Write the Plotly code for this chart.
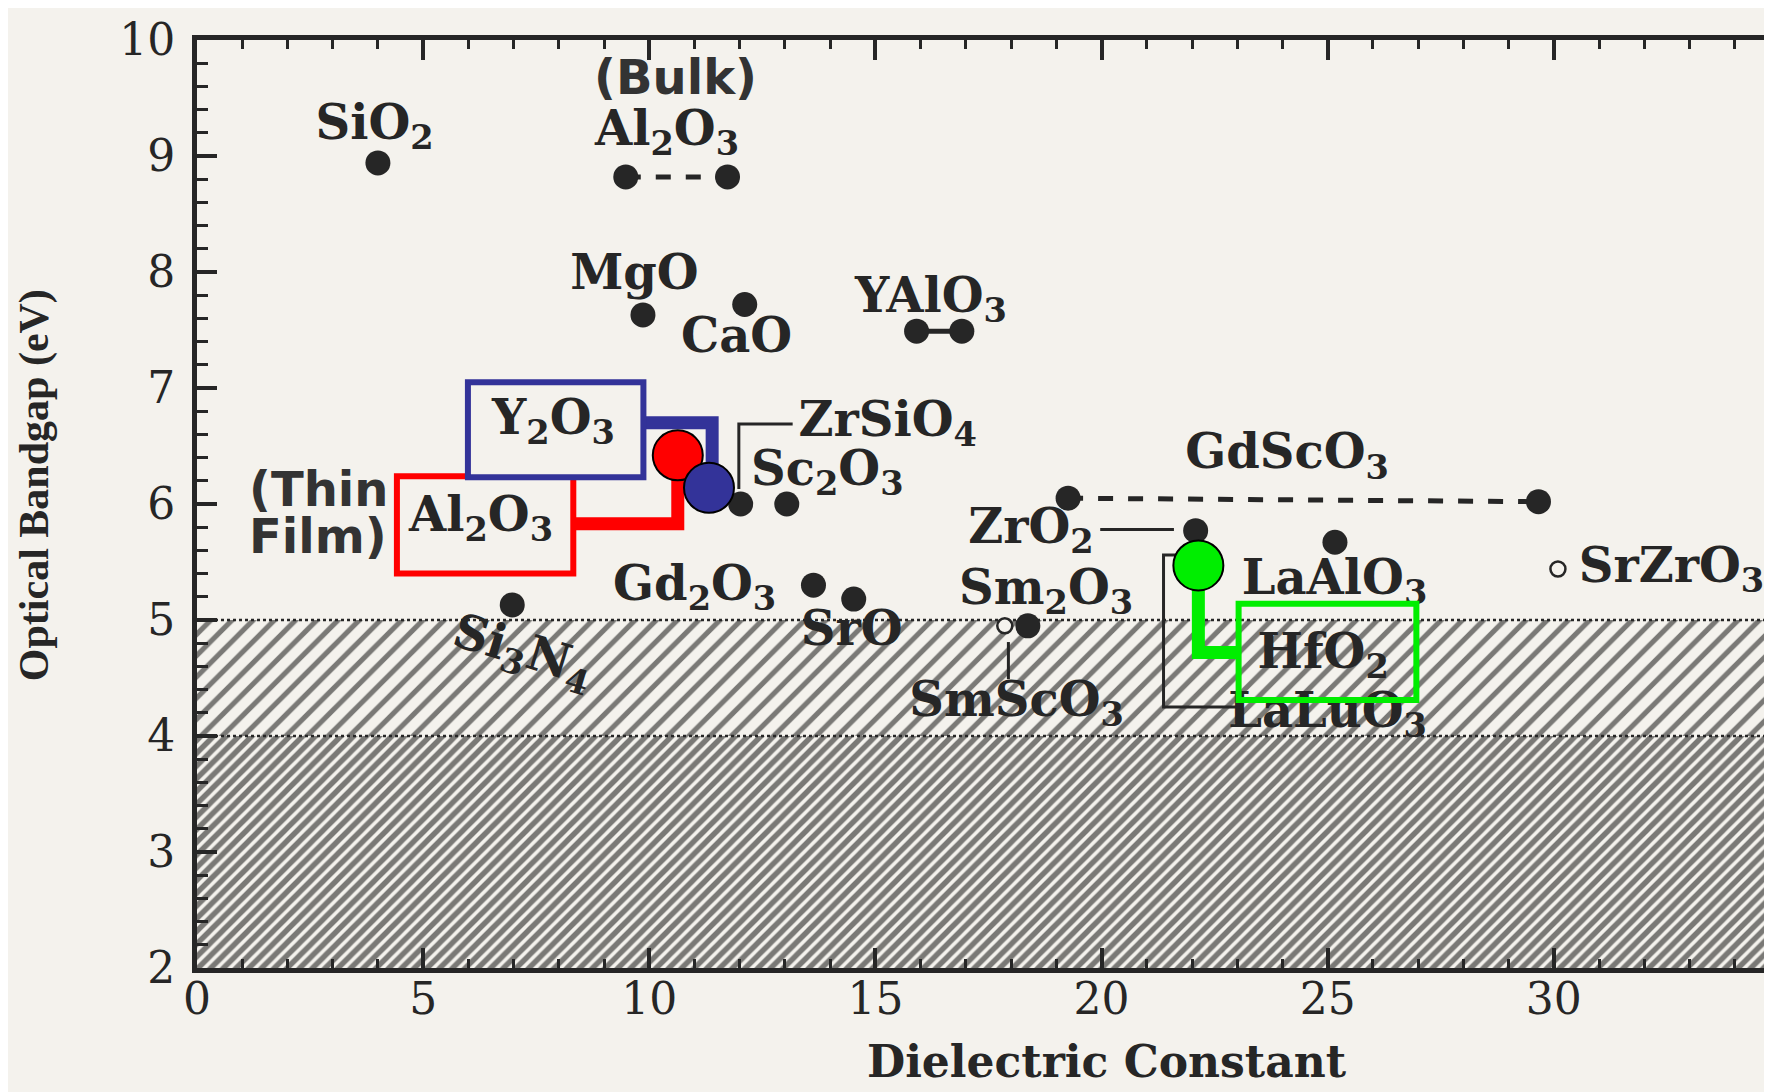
import plotly.graph_objects as go

# ---------------- data ----------------
# single bulk dielectrics: dielectric constant k, optical bandgap Eg (eV)
bulk_names = ["SiO<sub>2</sub>", "MgO", "CaO", "ZrSiO<sub>4</sub>", "Sc<sub>2</sub>O<sub>3</sub>",
              "Gd<sub>2</sub>O<sub>3</sub>", "SrO", "Si<sub>3</sub>N<sub>4</sub>",
              "Sm<sub>2</sub>O<sub>3</sub>", "ZrO<sub>2</sub>", "LaAlO<sub>3</sub>"]
bulk_k = [4.00, 9.86, 12.11, 12.02, 13.04, 13.63, 14.52, 6.97, 18.37, 22.08, 25.16]
bulk_eg = [8.94, 7.63, 7.72, 6.00, 6.00, 5.30, 5.18, 5.13, 4.95, 5.77, 5.67]

# materials given as a range of k
al2o3_bulk_k = [9.48, 11.73]
al2o3_bulk_eg = [8.82, 8.82]
yalo3_k = [15.91, 16.91]
yalo3_eg = [7.49, 7.49]
gdsco3_k = [19.26, 29.66]
gdsco3_eg = [6.05, 6.02]

# open symbols
open_names = ["SmScO<sub>3</sub>", "SrZrO<sub>3</sub>"]
open_k = [17.86, 30.09]
open_eg = [4.95, 5.44]

# thin films (highlighted)
film_names = ["Al<sub>2</sub>O<sub>3</sub>", "Y<sub>2</sub>O<sub>3</sub>", "HfO<sub>2</sub>"]
film_k = [10.63, 11.32, 22.14]
film_eg = [6.42, 6.14, 5.47]
film_colors = ["#ff0000", "#333399", "#00ee00"]

# shaded bandgap bands (eV)
band_low = [2.0, 4.0]
band_high = [4.0, 5.0]
k_range = [0, 35.0]
k_ticks = [0, 5, 10, 15, 20, 25, 30]
eg_range = [2, 10]

# ---------------- styling ----------------
PAPER = "#f4f2ed"
INK = "#262626"
SERIF_B = dict(family="DejaVu Serif", size=48, color=INK, weight="bold")
SANS_B = dict(family="DejaVu Sans", size=48, color="#333", weight="bold")

fig = go.Figure()

# hatched regions
fig.add_trace(go.Scatter(
    x=[k_range[0], k_range[1], k_range[1], k_range[0], k_range[0]],
    y=[band_high[1], band_high[1], band_high[0], band_high[0], band_high[1]],
    mode="none", fill="toself", fillcolor=PAPER,
    fillpattern=dict(shape="/", size=15, solidity=0.34, fgcolor="#000000", bgcolor=PAPER),
    hoverinfo="skip"))
fig.add_trace(go.Scatter(
    x=[k_range[0], k_range[1], k_range[1], k_range[0], k_range[0]],
    y=[band_low[1], band_low[1], band_low[0], band_low[0], band_low[1]],
    mode="none", fill="toself", fillcolor=PAPER,
    fillpattern=dict(shape="/", size=9, solidity=0.6, fgcolor="#000000", bgcolor=PAPER),
    hoverinfo="skip"))
for yv in (band_high[1], band_low[1]):
    fig.add_trace(go.Scatter(x=k_range, y=[yv, yv], mode="lines",
                             line=dict(color=INK, width=2.5, dash="dot"), hoverinfo="skip"))

# label positions (left edge, centre) in data units
label_pos = {
    "SiO<sub>2</sub>": (2.62, 9.25),
    "MgO": (8.25, 7.96),
    "CaO": (10.7, 7.41),
    "ZrSiO<sub>4</sub>": (13.3, 6.69),
    "Sc<sub>2</sub>O<sub>3</sub>": (12.25, 6.27),
    "Gd<sub>2</sub>O<sub>3</sub>": (9.2, 5.28),
    "SrO": (13.35, 4.89),
    "Sm<sub>2</sub>O<sub>3</sub>": (16.85, 5.24),
    "ZrO<sub>2</sub>": (17.05, 5.77),
    "LaAlO<sub>3</sub>": (23.1, 5.33),
    "SmScO<sub>3</sub>": (15.75, 4.28),
    "SrZrO<sub>3</sub>": (30.55, 5.43),
    "Al<sub>2</sub>O<sub>3</sub> bulk": (8.8, 9.20),
    "YAlO<sub>3</sub>": (14.55, 7.76),
    "GdScO<sub>3</sub>": (21.85, 6.41),
    "HfO<sub>2</sub>": (23.45, 4.69),
    "LaLuO<sub>3</sub>": (22.8, 4.18),
}
scan_labels = [n for n in bulk_names if n != "Si<sub>3</sub>N<sub>4</sub>"] + open_names + \
    ["Al<sub>2</sub>O<sub>3</sub> bulk", "YAlO<sub>3</sub>", "GdScO<sub>3</sub>", "HfO<sub>2</sub>",
     "LaLuO<sub>3</sub>"]
fig.add_trace(go.Scatter(
    x=[label_pos[n][0] for n in scan_labels], y=[label_pos[n][1] for n in scan_labels],
    text=[n.replace(" bulk", "") for n in scan_labels], mode="text",
    textposition="middle right", textfont=SERIF_B, hoverinfo="skip"))

# (Bulk) and (Thin Film)
fig.add_trace(go.Scatter(x=[10.58], y=[9.64], text=["(Bulk)"], mode="text",
                         textposition="middle center", textfont=SANS_B, hoverinfo="skip"))
fig.add_trace(go.Scatter(x=[1.15, 1.15], y=[6.09, 5.68], text=["(Thin", "Film)"], mode="text",
                         textposition="middle right", textfont=SANS_B, hoverinfo="skip"))

# brackets / leader lines from the original figure
leaders = [
    ([13.17, 11.98, 11.98], [6.69, 6.69, 6.13]),   # ZrSiO4
    ([19.97, 21.6], [5.78, 5.78]),                 # ZrO2
    ([21.70, 21.37, 21.37, 22.98], [5.56, 5.56, 4.25, 4.25]),  # LaLuO3
    ([17.94, 17.94], [4.81, 4.49]),                # SmScO3
]
for lx, ly in leaders:
    fig.add_trace(go.Scatter(x=lx, y=ly, mode="lines", line=dict(color=INK, width=3),
                             hoverinfo="skip"))

# bulk points
DOT = dict(size=25, color=INK)
fig.add_trace(go.Scatter(x=bulk_k, y=bulk_eg, mode="markers", marker=DOT, hoverinfo="skip"))
fig.add_trace(go.Scatter(x=al2o3_bulk_k, y=al2o3_bulk_eg, mode="lines+markers",
                         line=dict(color=INK, width=5, dash="dash"), marker=DOT, hoverinfo="skip"))
fig.add_trace(go.Scatter(x=yalo3_k, y=yalo3_eg, mode="lines+markers",
                         line=dict(color=INK, width=5), marker=DOT, hoverinfo="skip"))
fig.add_trace(go.Scatter(x=gdsco3_k, y=gdsco3_eg, mode="lines+markers",
                         line=dict(color=INK, width=5, dash="dash"), marker=DOT, hoverinfo="skip"))
fig.add_trace(go.Scatter(x=open_k, y=open_eg, mode="markers",
                         marker=dict(size=15, color=PAPER, line=dict(color=INK, width=2.5)),
                         hoverinfo="skip"))

# thin-film highlight boxes (x0, x1, y0, y1) and connectors
boxes = {
    "Al<sub>2</sub>O<sub>3</sub>": (4.42, 8.32, 5.40, 6.24),
    "Y<sub>2</sub>O<sub>3</sub>": (5.99, 9.87, 6.23, 7.05),
    "HfO<sub>2</sub>": (23.03, 26.96, 4.31, 5.14),
}
conn_y = {"Al<sub>2</sub>O<sub>3</sub>": 5.83, "Y<sub>2</sub>O<sub>3</sub>": 6.70}
shapes = []
for i, n in enumerate(film_names):
    x0, x1, y0, y1 = boxes[n]
    col = film_colors[i]
    if n == "HfO<sub>2</sub>":
        cx = [film_k[i], film_k[i], x0]
        cy = [film_eg[i], 4.72, 4.72]
        fill = "rgba(0,0,0,0)"
    else:
        xc = film_k[i] + (0.07 if n.startswith("Y") else 0)
        cx = [x1, xc, xc]
        cy = [conn_y[n], conn_y[n], film_eg[i]]
        fill = PAPER
    fig.add_trace(go.Scatter(x=cx, y=cy, mode="lines", line=dict(color=col, width=13),
                             hoverinfo="skip"))
    shapes.append(dict(type="rect", xref="x", yref="y", x0=x0, x1=x1, y0=y0, y1=y1,
                       line=dict(color=col, width=6), fillcolor=fill, layer="above"))
# film circles
fig.add_trace(go.Scatter(x=film_k, y=film_eg, mode="markers",
                         marker=dict(size=50, color=film_colors, line=dict(color="black", width=2)),
                         hoverinfo="skip"))

annotations = [
    dict(x=4.62, y=5.88, xref="x", yref="y", text="Al<sub>2</sub>O<sub>3</sub>",
         showarrow=False, xanchor="left", yanchor="middle", font=SERIF_B),
    dict(x=6.45, y=6.72, xref="x", yref="y", text="Y<sub>2</sub>O<sub>3</sub>",
         showarrow=False, xanchor="left", yanchor="middle", font=SERIF_B),
    dict(x=7.2, y=4.72, xref="x", yref="y", text="Si<sub>3</sub>N<sub>4</sub>",
         showarrow=False, xanchor="center", yanchor="middle", textangle=17, font=SERIF_B),
    dict(x=0.575, y=-0.101, xref="paper", yref="paper", text="Dielectric Constant",
         showarrow=False, xanchor="center", yanchor="middle",
         font=dict(family="DejaVu Serif", size=44, color=INK, weight="bold")),
    dict(x=-0.1025, y=0.52, xref="paper", yref="paper", text="Optical Bandgap (eV)",
         showarrow=False, xanchor="center", yanchor="middle", textangle=-90,
         font=dict(family="Liberation Serif", size=42, color=INK, weight="bold")),
]

fig.update_layout(
    width=1772, height=1092,
    margin=dict(l=189, r=0, t=32, b=132),
    paper_bgcolor=PAPER, plot_bgcolor=PAPER,
    showlegend=False, shapes=shapes, annotations=annotations,
    xaxis=dict(range=k_range, tickvals=k_ticks, ticks="inside", ticklen=20, tickwidth=4,
               tickcolor=INK, showline=True, linewidth=5, linecolor=INK, mirror="ticks",
               minor=dict(tick0=0, dtick=1, ticks="inside", ticklen=9, tickwidth=3, tickcolor=INK),
               showgrid=False, zeroline=False, ticklabelstandoff=-12,
               tickfont=dict(family="DejaVu Serif", size=44, color=INK)),
    yaxis=dict(range=eg_range, dtick=1, tick0=0, ticks="inside", ticklen=20, tickwidth=4,
               tickcolor=INK, showline=True, linewidth=5, linecolor=INK, mirror=False,
               minor=dict(tick0=0, dtick=0.2, ticks="inside", ticklen=11, tickwidth=3, tickcolor=INK),
               showgrid=False, zeroline=False, ticklabelstandoff=8,
               tickfont=dict(family="DejaVu Serif", size=44, color=INK)),
)

fig.write_html("out.html")
